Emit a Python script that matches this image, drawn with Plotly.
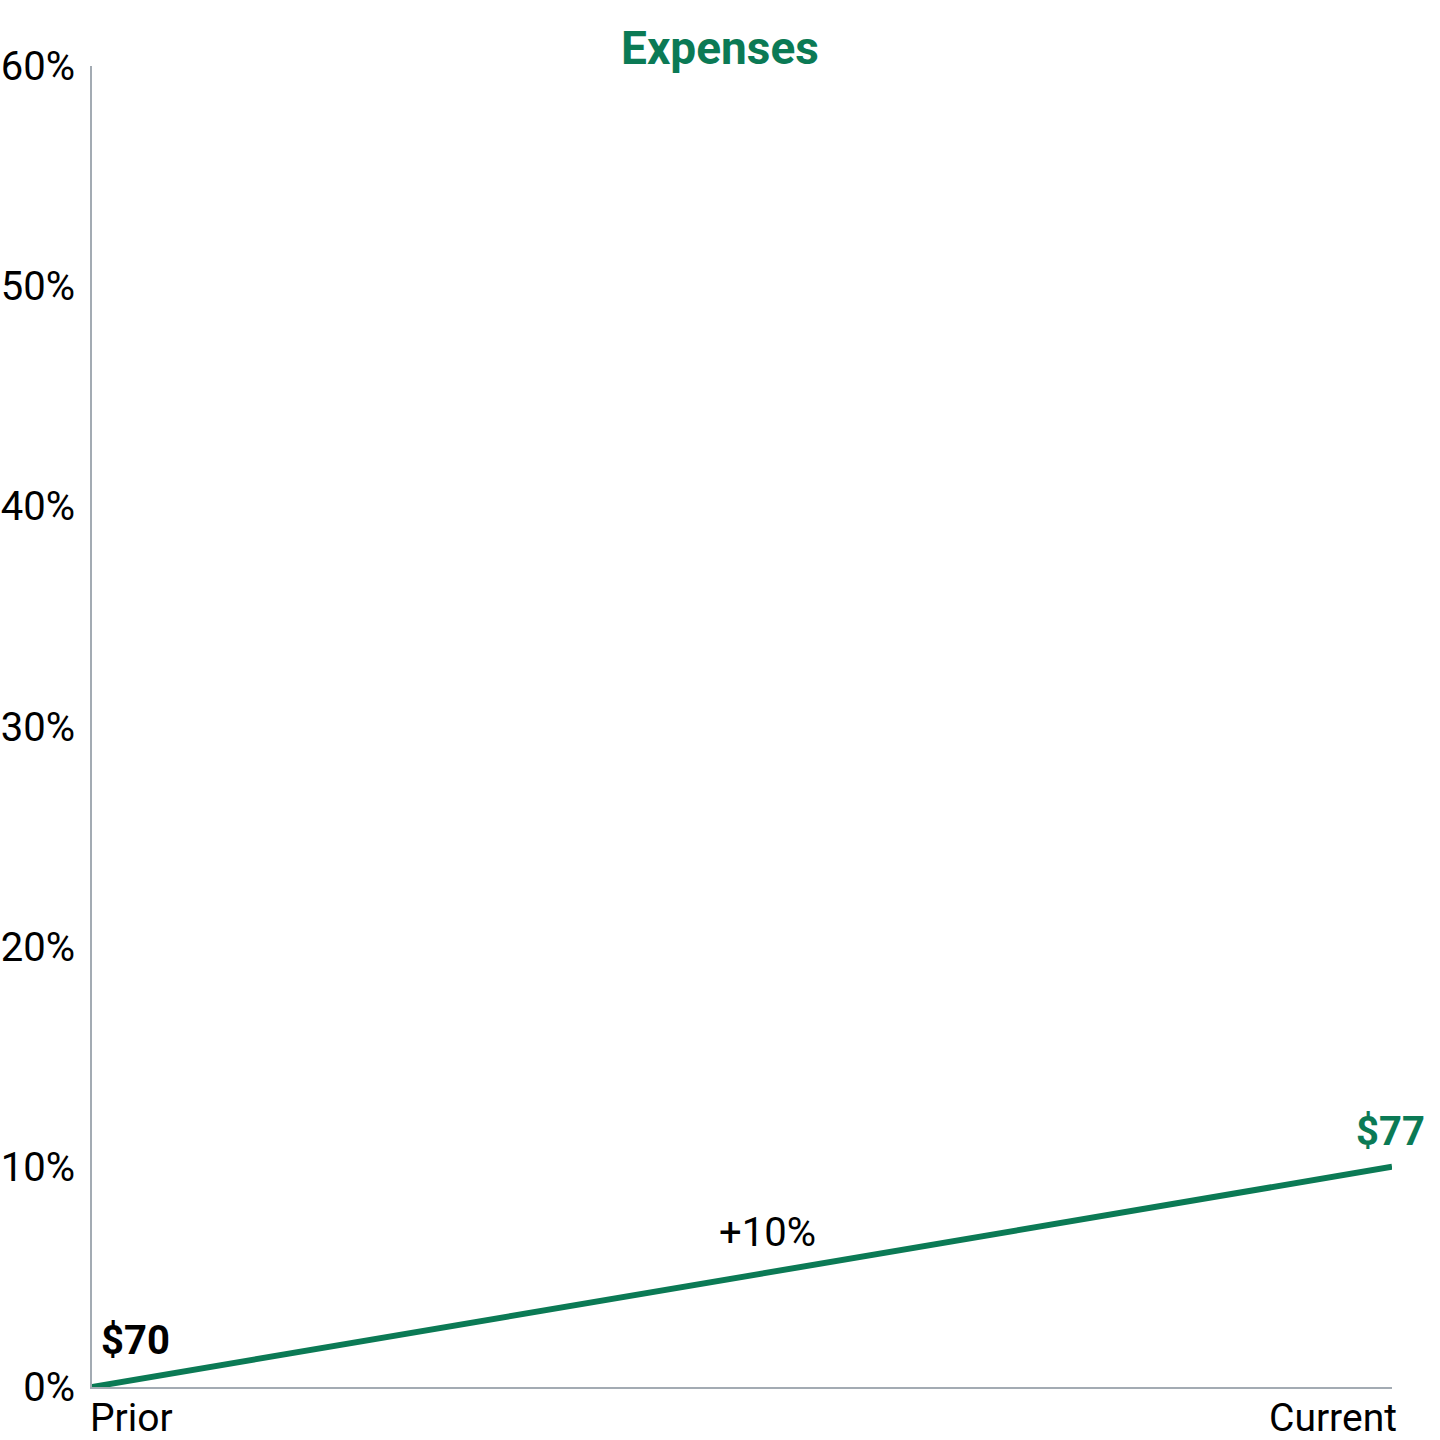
import plotly.graph_objects as go

# data
periods = ["Prior", "Current"]
period_pos = [0, 1]
pct_change = [0, 10]          # cumulative change, %
value_labels = ["$70", "$77"]
change_label = "+10%"
y_ticks = [0, 10, 20, 30, 40, 50, 60]
y_tick_text = ["0%", "10%", "20%", "30%", "40%", "50%", "60%"]

GREEN = "#0b7a55"
AXIS_GREY = "#a3abb3"
FONT = "Roboto"

fig = go.Figure()

fig.add_trace(go.Scatter(x=period_pos, y=pct_change, mode="lines",
                         line=dict(color=GREEN, width=6),
                         cliponaxis=False, showlegend=False, hoverinfo="skip"))

annotations = []
# value labels at both ends
annotations.append(dict(x=period_pos[0], y=pct_change[0], xref="x", yref="y",
                        text="<b>" + value_labels[0] + "</b>", showarrow=False,
                        xanchor="left", yanchor="middle", xshift=7, yshift=47,
                        font=dict(family=FONT, size=40, color="black")))
annotations.append(dict(x=period_pos[1], y=pct_change[1], xref="x", yref="y",
                        text="<b>" + value_labels[1] + "</b>", showarrow=False,
                        xanchor="center", yanchor="middle", xshift=-2, yshift=35,
                        font=dict(family=FONT, size=40, color=GREEN)))
# change label near the middle of the line
annotations.append(dict(x=sum(period_pos) / 2, y=sum(pct_change) / 2, xref="x", yref="y",
                        text=change_label, showarrow=False,
                        xanchor="center", yanchor="middle", xshift=25, yshift=44,
                        font=dict(family=FONT, size=40, color="black")))
# category labels: first left-aligned, last right-aligned
annotations.append(dict(x=period_pos[0], y=0, xref="x", yref="paper",
                        text=periods[0], showarrow=False, height=36,
                        xanchor="left", yanchor="middle", xshift=-4, yshift=-31,
                        font=dict(family=FONT, size=39, color="black")))
annotations.append(dict(x=period_pos[1], y=0, xref="x", yref="paper",
                        text=periods[1], showarrow=False, height=36,
                        xanchor="right", yanchor="middle", xshift=7, yshift=-31,
                        font=dict(family=FONT, size=39, color="black")))

fig.update_layout(
    width=1440, height=1440,
    margin=dict(l=92, r=48, t=66, b=53),
    paper_bgcolor="white", plot_bgcolor="white",
    title=dict(text="<b>Expenses</b>", x=0.5, xanchor="center", xref="container",
               y=1 - 48 / 1440, yanchor="middle",
               font=dict(family=FONT, size=46, color=GREEN)),
    xaxis=dict(range=[0, 1], showgrid=False, zeroline=False, showticklabels=False,
               showline=True, linecolor=AXIS_GREY, linewidth=2, ticks="",
               automargin=False),
    yaxis=dict(range=[0, 60], tickmode="array", tickvals=y_ticks, ticktext=y_tick_text,
               showgrid=False, zeroline=False, showline=True, linecolor=AXIS_GREY,
               linewidth=2, ticks="", ticklabelstandoff=7, automargin=False,
               tickfont=dict(family=FONT, size=40, color="black")),
    annotations=annotations,
)

fig.write_html("out.html", config={"displayModeBar": False},
               post_script="document.body.style.margin='0';")
